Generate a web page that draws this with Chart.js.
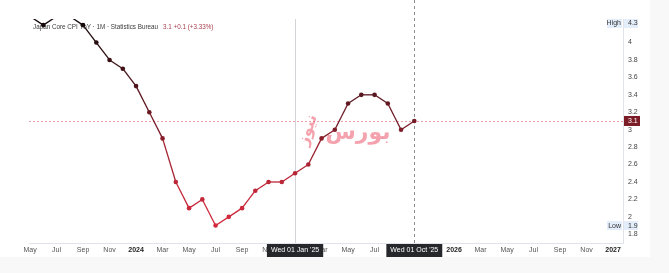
<!DOCTYPE html>
<html>
<head>
  <meta name="viewport" content="width=device-width, initial-scale=1.0">
  <title>Japan Core CPI YoY</title>
  <script src="https://cdn.jsdelivr.net/npm/chart.js"></script>
  <style>
    body {
      margin: 0;
      background: #f8f8f9;
      font-family: "Liberation Sans", Arial, sans-serif;
    }
    .pane {
      width: 650px;
      height: 257px;
      background: #ffffff;
    }
  </style>
</head>
<body>
  <div class="pane">
    <canvas id="cpiChart" width="650" height="257"></canvas>
  </div>

  <script>
    // monthly readings, YoY %
    const months = ["2023-05","2023-06","2023-07","2023-08","2023-09","2023-10","2023-11","2023-12",
                    "2024-01","2024-02","2024-03","2024-04","2024-05","2024-06","2024-07","2024-08",
                    "2024-09","2024-10","2024-11","2024-12","2025-01","2025-02","2025-03","2025-04",
                    "2025-05","2025-06","2025-07","2025-08","2025-09","2025-10"];
    const cpiValues = [4.3, 4.2, 4.3, 4.3, 4.2, 4.0, 3.8, 3.7,
                       3.5, 3.2, 2.9, 2.4, 2.1, 2.2, 1.9, 2.0,
                       2.1, 2.3, 2.4, 2.4, 2.5, 2.6, 2.9, 3.0,
                       3.3, 3.4, 3.4, 3.3, 3.0, 3.1];

    // axis ticks
    const xTickMonths = ["2023-05","2023-07","2023-09","2023-11","2024-01","2024-03","2024-05","2024-07",
                         "2024-09","2024-11","2025-01","2025-03","2025-05","2025-07","2025-09","2025-11",
                         "2026-01","2026-03","2026-05","2026-07","2026-09","2026-11","2027-01"];
    const xTickLabels = ["May","Jul","Sep","Nov","2024","Mar","May","Jul",
                         "Sep","Nov","2025","Mar","May","Jul","Sep","Nov",
                         "2026","Mar","May","Jul","Sep","Nov","2027"];
    const yTicks = [1.8, 2, 2.2, 2.4, 2.6, 2.8, 3, 3.2, 3.4, 3.6, 3.8, 4];

    const title = "Japan Core CPI YoY · 1M · Statistics Bureau";
    const lastText = "3.1 +0.1 (+3.33%)";
    const highValue = 4.3, lowValue = 1.9, lastValue = 3.1;
    const crossMonth = "2025-01", crossLabel = "Wed 01 Jan '25";
    const lastMonth = "2025-10", lastLabel = "Wed 01 Oct '25";

    function monthIndex(s) {
      const [y, m] = s.split("-").map(Number);
      return (y - 2023) * 12 + (m - 1);
    }

    // colour by value: dark at the top, crimson at the bottom
    const stops = [[4.3, [15, 8, 8]], [3.4, [88, 22, 30]], [3.1, [116, 27, 38]], [2.5, [182, 38, 54]], [1.9, [212, 42, 62]]];
    function colorFor(v) {
      if (v >= stops[0][0]) return "rgb(" + stops[0][1].join(",") + ")";
      for (let i = 1; i < stops.length; i++) {
        if (v >= stops[i][0]) {
          const a = stops[i - 1], b = stops[i];
          const t = (a[0] - v) / (a[0] - b[0]);
          const c = a[1].map((x, k) => Math.round(x + (b[1][k] - x) * t));
          return "rgb(" + c.join(",") + ")";
        }
      }
      return "rgb(" + stops[stops.length - 1][1].join(",") + ")";
    }

    const points = months.map((m, i) => ({ x: monthIndex(m), y: cpiValues[i] }));

    const overlay = {
      id: "overlay",
      beforeDatasetsDraw(chart) {
        const { ctx, chartArea: a, scales: { x, y } } = chart;
        ctx.save();
        // crosshair lines
        ctx.strokeStyle = "#d4d4d8";
        ctx.lineWidth = 1;
        const cx = Math.round(x.getPixelForValue(monthIndex(crossMonth))) + 0.5;
        ctx.beginPath(); ctx.moveTo(cx, a.top); ctx.lineTo(cx, a.bottom); ctx.stroke();
        ctx.strokeStyle = "#8a8a90";
        ctx.setLineDash([3, 3]);
        const lx = Math.round(x.getPixelForValue(monthIndex(lastMonth))) + 0.5;
        ctx.beginPath(); ctx.moveTo(lx, 0); ctx.lineTo(lx, a.bottom); ctx.stroke();
        // last value line
        ctx.strokeStyle = "rgba(225,120,135,0.7)";
        ctx.setLineDash([2, 2]);
        const ly = Math.round(y.getPixelForValue(lastValue)) + 0.5;
        ctx.beginPath(); ctx.moveTo(a.left, ly); ctx.lineTo(a.right, ly); ctx.stroke();
        ctx.setLineDash([]);

        // watermark
        ctx.fillStyle = "rgba(236,100,118,0.6)";
        ctx.textAlign = "center";
        ctx.textBaseline = "middle";
        ctx.font = "bold 22px 'DejaVu Sans'";
        ctx.fillText("بورس", 358, 133);
        ctx.save();
        ctx.translate(308, 130);
        ctx.rotate(-1.25);
        ctx.font = "bold 16px 'DejaVu Sans'";
        ctx.fillText("نیوز", 0, 0);
        ctx.restore();

        // title
        ctx.textAlign = "left";
        ctx.textBaseline = "middle";
        ctx.font = "6.3px 'Liberation Sans'";
        ctx.fillStyle = "#3a3a3a";
        ctx.fillText(title, 33, 27);
        const w = ctx.measureText(title).width;
        ctx.fillStyle = "#a8404f";
        ctx.fillText(lastText, 33 + w + 5, 27);
        ctx.restore();
      },
      afterDraw(chart) {
        const { ctx, chartArea: a, scales: { x, y } } = chart;
        ctx.save();
        ctx.font = "7px 'Liberation Sans'";
        ctx.textBaseline = "middle";
        ctx.textAlign = "left";
        // high / low tags
        function tag(label, val, yy) {
          ctx.fillStyle = "#e4eefb";
          ctx.fillRect(a.right - 16, yy - 4.5, 15, 9);
          ctx.fillRect(a.right + 1, yy - 4.5, 14, 9);
          ctx.fillStyle = "#333";
          ctx.textAlign = "right";
          ctx.fillText(label, a.right - 2, yy);
          ctx.textAlign = "left";
          ctx.fillText(val, a.right + 5, yy);
        }
        tag("High", String(highValue), 23.5);
        tag("Low", String(lowValue), y.getPixelForValue(lowValue));
        // last value box
        const ly = y.getPixelForValue(lastValue);
        ctx.fillStyle = "#7a1b25";
        ctx.fillRect(a.right + 1, ly - 5, 16, 10);
        ctx.fillStyle = "#ffffff";
        ctx.fillText(String(lastValue), a.right + 5, ly + 0.5);
        // date boxes on the time axis
        ctx.textAlign = "center";
        function dateBox(m, label) {
          const px = x.getPixelForValue(monthIndex(m));
          const bw = ctx.measureText(label).width + 8;
          ctx.fillStyle = "#26272b";
          ctx.fillRect(px - bw / 2, a.bottom + 1, bw, 13);
          ctx.fillStyle = "#ffffff";
          ctx.fillText(label, px, a.bottom + 7.5);
        }
        dateBox(crossMonth, crossLabel);
        dateBox(lastMonth, lastLabel);
        ctx.restore();
      }
    };

    const ctx = document.getElementById("cpiChart").getContext("2d");
    new Chart(ctx, {
      type: "line",
      data: {
        datasets: [{
          label: "Japan Core CPI YoY",
          data: points,
          borderWidth: 1.3,
          pointRadius: 2.3,
          pointHoverRadius: 2.3,
          pointBorderWidth: 0,
          pointBackgroundColor: c => colorFor(c.raw ? c.raw.y : 3),
          segment: {
            borderColor: s => colorFor((s.p0.parsed.y + s.p1.parsed.y) / 2)
          },
          tension: 0
        }]
      },
      options: {
        responsive: false,
        animation: false,
        clip: { left: 0, top: 0, right: 0, bottom: 0 },
        layout: { padding: { left: 29, top: 19, right: 0, bottom: 0 } },
        plugins: { legend: { display: false }, tooltip: { enabled: false } },
        scales: {
          x: {
            type: "linear",
            min: 3.92,
            max: 48.75,
            grid: { display: false, drawTicks: false },
            border: { display: true, color: "#e0e3eb" },
            afterBuildTicks: axis => { axis.ticks = xTickMonths.map(m => ({ value: monthIndex(m) })); },
            afterFit: axis => { axis.height = 14; },
            ticks: {
              autoSkip: false,
              maxRotation: 0,
              padding: 3,
              color: c => /\d/.test(xTickLabels[c.index] || "") ? "#222" : "#555",
              font: c => ({ size: 7, family: "'Liberation Sans'", weight: /\d/.test(xTickLabels[c.index] || "") ? "bold" : "normal" }),
              callback: (v, i) => xTickLabels[i]
            }
          },
          y: {
            position: "right",
            min: 1.70,
            max: 4.27,
            grid: { display: false, drawTicks: false },
            border: { display: true, color: "#e0e3eb" },
            afterBuildTicks: axis => { axis.ticks = yTicks.map(v => ({ value: v })); },
            afterFit: axis => { axis.width = 27; },
            ticks: {
              padding: 5,
              color: "#444",
              font: { size: 7, family: "'Liberation Sans'" },
              callback: v => String(v)
            }
          }
        }
      },
      plugins: [overlay]
    });
  </script>
</body>
</html>
